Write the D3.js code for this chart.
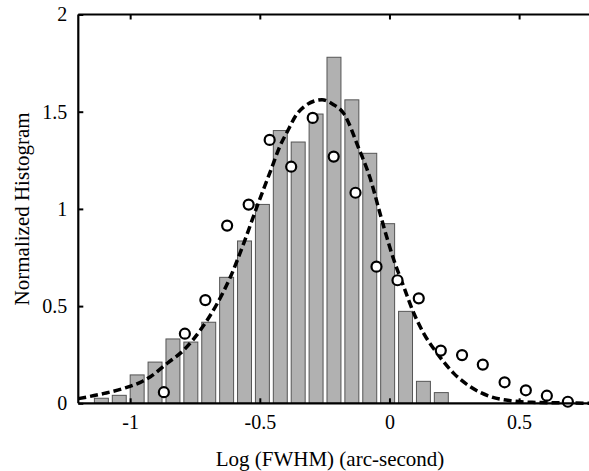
<!DOCTYPE html>
<html>
<head>
<meta charset="utf-8">
<script src="https://cdn.jsdelivr.net/npm/d3@7"></script>
<style>
  html, body { margin: 0; padding: 0; background: #fff; }
  svg { display: block; }
</style>
</head>
<body>
<svg id="chart" width="589" height="471"></svg>
<script>
// ---- data ----
const binCenters = [-1.111, -1.042, -0.973, -0.904, -0.835, -0.766, -0.697, -0.628, -0.559, -0.490,
                    -0.421, -0.352, -0.283, -0.214, -0.145, -0.076, -0.007, 0.062, 0.131, 0.200];
const binHeights = [0.026, 0.041, 0.146, 0.212, 0.331, 0.315, 0.417, 0.648, 0.835, 1.023,
                    1.403, 1.344, 1.488, 1.780, 1.561, 1.286, 0.924, 0.473, 0.113, 0.055];
const binWidth = 0.069;

const circleX = [-0.870, -0.789, -0.710, -0.626, -0.543, -0.462, -0.379, -0.296, -0.215, -0.131,
                 -0.050, 0.031, 0.113, 0.198, 0.280, 0.360, 0.444, 0.526, 0.607, 0.688];
const circleY = [0.057, 0.358, 0.531, 0.914, 1.022, 1.355, 1.217, 1.468, 1.269, 1.083,
                 0.703, 0.633, 0.540, 0.271, 0.248, 0.199, 0.108, 0.067, 0.039, 0.008];

const fitX = [-1.20, -1.10, -1.025, -0.95, -0.922, -0.857, -0.793, -0.729, -0.664, -0.613,
              -0.562, -0.510, -0.460, -0.420, -0.395, -0.356, -0.330, -0.290, -0.260, -0.220,
              -0.176, -0.118, -0.075, -0.035, -0.022, 0.017, 0.055, 0.094, 0.132, 0.184,
              0.248, 0.312, 0.390, 0.467, 0.550, 0.621, 0.800];
const fitY = [0.024, 0.051, 0.077, 0.115, 0.137, 0.206, 0.274, 0.377, 0.514, 0.651,
              0.823, 1.015, 1.190, 1.330, 1.395, 1.490, 1.525, 1.555, 1.562, 1.540,
              1.490, 1.310, 1.160, 0.970, 0.908, 0.737, 0.600, 0.463, 0.360, 0.257,
              0.154, 0.085, 0.034, 0.013, 0.005, 0.003, 0.000];

const xTicks = [-1, -0.5, 0, 0.5];
const yTicks = [0, 0.5, 1, 1.5, 2];
const xLabel = "Log (FWHM) (arc-second)";
const yLabel = "Normalized Histogram";

// ---- layout ----
const FONT = "'Liberation Serif', 'Times New Roman', Times, serif";
const svg = d3.select("#chart");
const L = 78.3, R = 596.9, T = 14.5, B = 403.3;
const x = d3.scaleLinear().domain([-1.2, 0.8]).range([L, R]);
const y = d3.scaleLinear().domain([0, 2]).range([B, T]);

const bars = binCenters.map((c, i) => ({ c, h: binHeights[i] }));
const barFrac = 0.78;
const bw = (x(binWidth) - x(0)) * barFrac;

svg.append("g").selectAll("rect").data(bars).join("rect")
  .attr("x", d => x(d.c) - bw / 2)
  .attr("y", d => y(d.h))
  .attr("width", bw)
  .attr("height", d => y(0) - y(d.h))
  .attr("fill", "#b1b1b1")
  .attr("stroke", "#555")
  .attr("stroke-width", 1);

// fitted curve
const fit = fitX.map((v, i) => [v, fitY[i]]);
svg.append("path")
  .datum(fit)
  .attr("fill", "none")
  .attr("stroke", "#000")
  .attr("stroke-width", 3.5)
  .attr("stroke-dasharray", "8,4")
  .attr("d", d3.line().x(d => x(d[0])).y(d => y(d[1])).curve(d3.curveMonotoneX));

// circles
const pts = circleX.map((v, i) => ({ x: v, y: circleY[i] }));
svg.append("g").selectAll("circle").data(pts).join("circle")
  .attr("cx", d => x(d.x))
  .attr("cy", d => y(d.y))
  .attr("r", 5)
  .attr("fill", "#fff")
  .attr("stroke", "#000")
  .attr("stroke-width", 2.2);

// axes
const axBottom = svg.append("g").attr("transform", `translate(0,${B})`)
  .call(d3.axisBottom(x).tickValues(xTicks).tickSize(-5).tickPadding(12)
    .tickFormat(d => String(d)));
const axTop = svg.append("g").attr("transform", `translate(0,${T})`)
  .call(d3.axisTop(x).tickValues(xTicks).tickSize(-5).tickFormat(""));
const axLeft = svg.append("g").attr("transform", `translate(${L},0)`)
  .call(d3.axisLeft(y).tickValues(yTicks).tickSize(-5).tickPadding(11)
    .tickFormat(d => String(d)));
const axRight = svg.append("g").attr("transform", `translate(${R},0)`)
  .call(d3.axisRight(y).tickValues(yTicks).tickSize(-5).tickFormat(""));

[axBottom, axTop, axLeft, axRight].forEach(g => {
  g.attr("font-family", null).attr("font-size", null);
  g.select(".domain").attr("stroke", "#000").attr("stroke-width", 2.2);
  g.selectAll(".tick line").attr("stroke", "#000").attr("stroke-width", 2);
  g.selectAll(".tick text").style("font-family", FONT)
    .style("font-size", "20px").attr("fill", "#000");
});
axBottom.select(".domain").attr("d", `M${L},0H${R}`);
axTop.select(".domain").attr("d", `M${L},0H${R}`);
axLeft.select(".domain").attr("d", `M0,${T}V${B}`);
axRight.select(".domain").attr("d", `M0,${T}V${B}`);

// axis labels
svg.append("text")
  .attr("x", 330).attr("y", 466)
  .attr("text-anchor", "middle")
  .style("font-family", FONT)
  .style("font-size", "21px")
  .text(xLabel);

svg.append("text")
  .attr("transform", `translate(29,${(T + B) / 2}) rotate(-90)`)
  .attr("text-anchor", "middle")
  .style("font-family", FONT)
  .style("font-size", "21px")
  .text(yLabel);
</script>
</body>
</html>
